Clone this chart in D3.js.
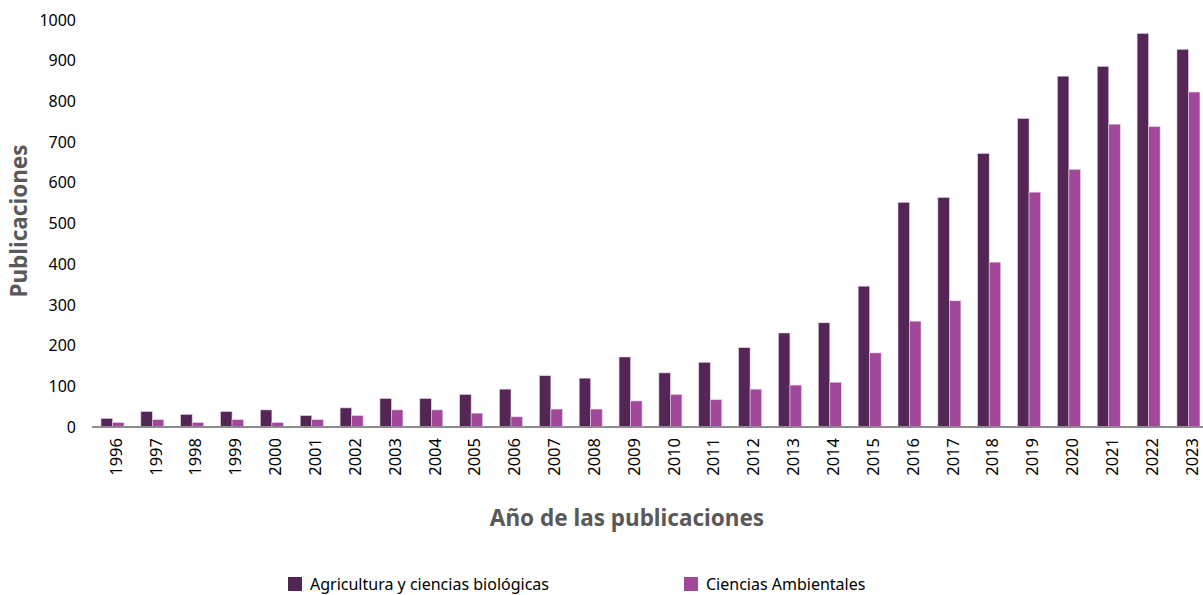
<!DOCTYPE html>
<html>
<head>
<meta charset="utf-8">
<script src="https://cdn.jsdelivr.net/npm/d3@7"></script>
<style>
  body { margin: 0; background: #fff; }
  text { font-family: "Noto Sans", "DejaVu Sans", sans-serif; }
</style>
</head>
<body>
<div class="chart"></div>
<script>
var years = ['1996','1997','1998','1999','2000','2001','2002','2003','2004','2005',
  '2006','2007','2008','2009','2010','2011','2012','2013','2014','2015',
  '2016','2017','2018','2019','2020','2021','2022','2023'];

var agricultura = [21, 38, 31, 38, 42, 28, 47, 70, 70, 80,
  93, 126, 120, 172, 133, 159, 195, 231, 256, 346,
  552, 564, 672, 758, 862, 886, 967, 928];

var ambientales = [11, 18, 11, 18, 11, 18, 28, 42, 42, 34,
  25, 44, 44, 64, 80, 67, 93, 103, 110, 182,
  260, 310, 405, 577, 633, 744, 738, 823];

var seriesNames = ['Agricultura y ciencias biológicas', 'Ciencias Ambientales'];
var colors = ['#532656', '#a2489b'];
var yTicks = [0, 100, 200, 300, 400, 500, 600, 700, 800, 900, 1000];

var width = 1203, height = 595;

var svg = d3.select('.chart').append('svg')
  .attr('width', width)
  .attr('height', height);

var x = d3.scaleBand()
  .domain(years)
  .range([92, 92 + 28 * 39.85])
  .paddingInner(0)
  .paddingOuter(0);

var y = d3.scaleLinear()
  .domain([0, 1000])
  .range([427, 20]);

var sub = d3.scaleBand()
  .domain([0, 1])
  .range([9, 32]);

// y tick labels
svg.append('g').selectAll('text')
  .data(yTicks)
  .enter().append('text')
  .attr('x', 76)
  .attr('y', function(d) { return y(d); })
  .attr('dy', '0.35em')
  .attr('text-anchor', 'end')
  .attr('font-size', 16)
  .attr('fill', '#000')
  .text(function(d) { return d; });

// bars
var series = [agricultura, ambientales];
series.forEach(function(vals, i) {
  svg.append('g').selectAll('rect')
    .data(vals)
    .enter().append('rect')
    .attr('x', function(d, j) { return x(years[j]) + sub(i); })
    .attr('y', function(d) { return y(d); })
    .attr('width', sub.bandwidth())
    .attr('height', function(d) { return y(0) - y(d); })
    .attr('fill', colors[i])
    .attr('stroke', '#e6cfe6')
    .attr('stroke-width', 0.6);
});

// x axis line
svg.append('line')
  .attr('x1', 92).attr('x2', width)
  .attr('y1', y(0)).attr('y2', y(0))
  .attr('stroke', '#8c8c8c')
  .attr('stroke-width', 2);

// year labels
svg.append('g').selectAll('text')
  .data(years)
  .enter().append('text')
  .attr('transform', function(d) {
    return 'translate(' + (x(d) + x.bandwidth() / 2 + 4) + ',438) rotate(-90)';
  })
  .attr('dy', '0.35em')
  .attr('text-anchor', 'end')
  .attr('font-size', 16.5)
  .attr('fill', '#000')
  .text(function(d) { return d; });

// axis titles
svg.append('text')
  .attr('transform', 'translate(19,221) rotate(-90)')
  .attr('dy', '0.35em')
  .attr('text-anchor', 'middle')
  .attr('font-size', 22.5)
  .attr('font-weight', 'bold')
  .attr('fill', '#595959')
  .text('Publicaciones');

svg.append('text')
  .attr('x', 627)
  .attr('y', 518)
  .attr('dy', '0.35em')
  .attr('text-anchor', 'middle')
  .attr('font-size', 22.5)
  .attr('font-weight', 'bold')
  .attr('fill', '#595959')
  .text('Año de las publicaciones');

// legend
var legendX = [288, 684];
var legend = svg.append('g').selectAll('g')
  .data(seriesNames)
  .enter().append('g')
  .attr('transform', function(d, i) { return 'translate(' + legendX[i] + ',577)'; });

legend.append('rect')
  .attr('width', 14).attr('height', 14)
  .attr('fill', function(d, i) { return colors[i]; });

legend.append('text')
  .attr('x', 22)
  .attr('y', 7)
  .attr('dy', '0.35em')
  .attr('font-size', 16)
  .attr('fill', '#000')
  .text(function(d) { return d; });
</script>
</body>
</html>
